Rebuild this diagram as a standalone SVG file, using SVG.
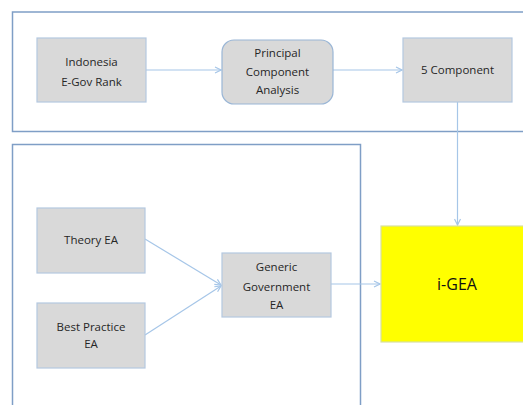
<svg xmlns="http://www.w3.org/2000/svg" width="523" height="405" viewBox="0 0 523 405">
<style>
.frame{fill:none;stroke:#7f9ec6;stroke-width:1.5}
.box{fill:#d9d9d9;stroke:#b4c8e0;stroke-width:1.2}
.lbl{font-family:"Open Sans","Liberation Sans",sans-serif;font-size:11.5px;fill:#262626;text-anchor:middle}
.conn{fill:none;stroke:#a6c6e8;stroke-width:1.2}
</style>
<defs>
<marker id="arr" markerWidth="8" markerHeight="8" refX="7" refY="4" orient="auto" markerUnits="userSpaceOnUse">
<path d="M1,1 L7,4 L1,7" fill="none" stroke="#a6c6e8" stroke-width="1.2"/>
</marker>
</defs>
<rect width="523" height="405" fill="#fff"/>
<path class="frame" d="M530,12 H12.5 V131.5 H530"/>
<path class="frame" d="M12.5,410 V144.5 H360.5 V410"/>
<g id="connectors">
<line class="conn" x1="146" y1="70" x2="221" y2="70" marker-end="url(#arr)"/>
<line class="conn" x1="333" y1="70" x2="402" y2="70" marker-end="url(#arr)"/>
<line class="conn" x1="457.5" y1="102" x2="457.5" y2="225" marker-end="url(#arr)"/>
<line class="conn" x1="145" y1="239" x2="221" y2="285" marker-end="url(#arr)"/>
<line class="conn" x1="145" y1="335" x2="221" y2="286" marker-end="url(#arr)"/>
<line class="conn" x1="331" y1="284" x2="380" y2="284" marker-end="url(#arr)"/>
</g>
<g id="indonesia">
<rect class="box" x="37" y="38" width="109" height="64"/>
<text class="lbl" x="91.5" y="66">Indonesia</text>
<text class="lbl" x="91.5" y="86">E-Gov Rank</text>
</g>
<g id="pca">
<rect class="box" x="222" y="40" width="111" height="64" rx="12" ry="12" style="stroke:#9ab6d6"/>
<text class="lbl" x="277.5" y="57">Principal</text>
<text class="lbl" x="277.5" y="76">Component</text>
<text class="lbl" x="277.5" y="94">Analysis</text>
</g>
<g id="five">
<rect class="box" x="403" y="38" width="109" height="64"/>
<text class="lbl" x="457.5" y="74">5 Component</text>
</g>
<g id="theory">
<rect class="box" x="37" y="208" width="108" height="65"/>
<text class="lbl" x="91" y="244">Theory EA</text>
</g>
<g id="best">
<rect class="box" x="37" y="303" width="108" height="65"/>
<text class="lbl" x="91" y="331">Best Practice</text>
<text class="lbl" x="91" y="348">EA</text>
</g>
<g id="generic">
<rect class="box" x="222" y="253" width="109" height="64"/>
<text class="lbl" x="276.5" y="271">Generic</text>
<text class="lbl" x="276.5" y="291">Government</text>
<text class="lbl" x="276.5" y="309">EA</text>
</g>
<g id="igea">
<rect x="381" y="226" width="150" height="116" fill="#ffff00" stroke="#d8e0a0" stroke-width="1.2"/>
<text x="457" y="290" font-family="'Open Sans','Liberation Sans',sans-serif" font-size="16px" fill="#111" text-anchor="middle">i-GEA</text>
</g>
</svg>
